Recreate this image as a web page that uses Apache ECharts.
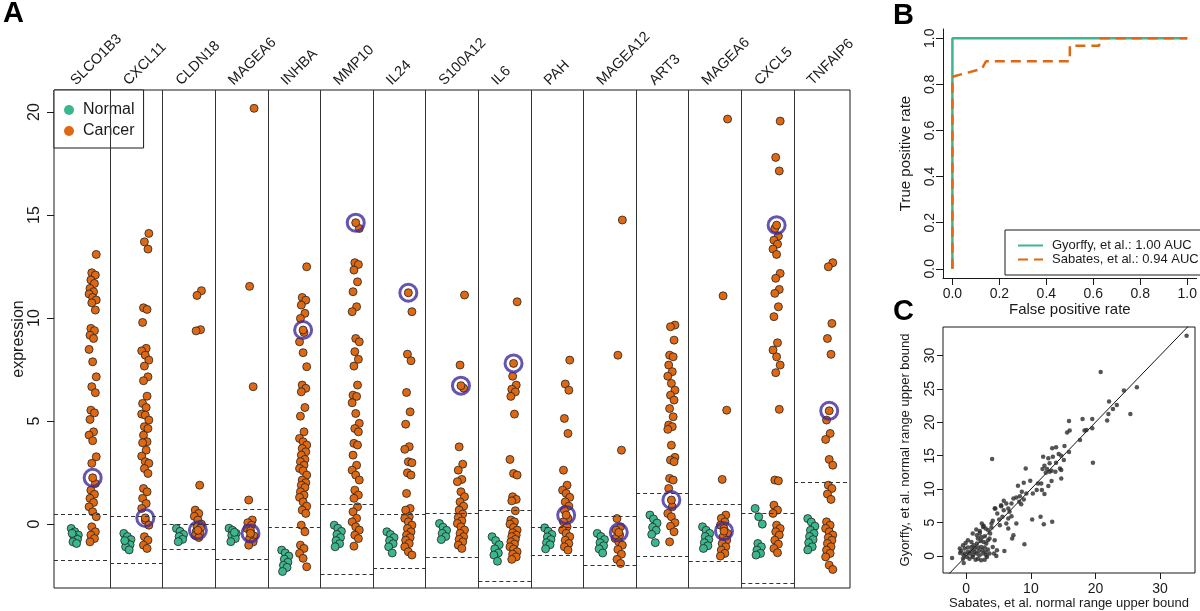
<!DOCTYPE html>
<html><head><meta charset="utf-8">
<script src="https://cdn.jsdelivr.net/npm/echarts@6/dist/echarts.min.js"></script>
<style>html,body{margin:0;padding:0;background:#fff}#c{width:1200px;height:611px}</style>
</head><body><div id="c"></div>
<script>
// ---------- Panel A data ----------
const genes = ['SLCO1B3','CXCL11','CLDN18','MAGEA6','INHBA','MMP10','IL24','S100A12','IL6','PAH','MAGEA12','ART3','MAGEA6','CXCL5','TNFAIP6'];
const yTicksA = [0,5,10,15,20];
const normalVals = [
  [-0.21,-0.37,-0.53,-0.61,-0.74,-0.86,-0.94,-0.45],
  [-0.45,-0.6,-0.75,-0.9,-1.0,-1.1,-1.25,-0.8],
  [-0.21,-0.35,-0.5,-0.6,-0.74,-0.85],
  [-0.2,-0.3,-0.45,-0.55,-0.7,-0.85,-0.4],
  [-1.26,-1.4,-1.55,-1.7,-1.85,-2.0,-2.1,-2.3],
  [-0.05,-0.2,-0.35,-0.5,-0.65,-0.8,-0.95,-1.1],
  [-0.37,-0.5,-0.65,-0.8,-0.95,-1.1,-1.4],
  [0.03,-0.15,-0.3,-0.45,-0.6,-0.75],
  [-0.61,-0.8,-1.0,-1.2,-1.4,-1.5,-1.8],
  [-0.18,-0.35,-0.5,-0.62,-0.75,-0.9,-1.0,-1.2],
  [-0.45,-0.6,-0.75,-0.9,-1.05,-1.2,-1.4],
  [0.44,0.25,0.05,-0.15,-0.3,-0.5,-0.9],
  [-0.13,-0.3,-0.45,-0.6,-0.75,-0.9,-1.05,-1.18],
  [0.76,0.36,0.0,-0.94,-1.1,-1.26,-1.42,-1.5],
  [0.27,0.1,-0.1,-0.3,-0.45,-0.6,-0.75,-0.9,-1.1,-1.25]
];
const cancerVals = [
  [13.09,12.2,12.09,11.85,11.68,11.44,11.28,11.17,11.0,10.88,10.74,10.39,9.5,9.39,9.17,9.01,8.48,7.88,7.15,6.67,6.38,5.53,5.4,5.08,4.48,4.32,4.05,3.27,2.95,1.97,1.65,1.45,1.25,1.05,0.84,0.6,0.36,-0.13,-0.37,-0.53,-0.7,-0.86],
  [14.11,13.7,13.35,10.5,10.42,9.79,8.53,8.41,8.2,7.96,7.67,7.15,6.96,6.21,5.86,5.66,5.34,5.29,5.05,4.73,4.64,4.32,4.0,3.95,3.59,3.3,3.03,2.95,2.7,2.46,1.73,1.57,1.25,1.0,0.76,0.19,-0.05,-0.61,-0.78,-1.02,-1.18],
  [11.33,11.1,9.44,9.38,1.89,0.68,0.52,0.38,0.2,0.0,-0.13,-0.2,-0.37,-0.45,-0.55,-0.65],
  [20.18,11.54,6.67,1.17,0.2,0.07,-0.05,-0.21,-0.32,-0.58,-0.7,-0.86,-1.02],
  [12.49,11.0,10.87,10.63,10.23,9.98,9.3,8.85,8.32,7.64,6.75,6.59,6.42,5.66,5.24,4.48,4.16,4.0,3.84,3.67,3.51,3.35,3.14,3.03,2.86,2.7,2.59,2.38,2.14,2.01,1.89,1.78,1.57,1.41,1.3,1.08,0.87,0.68,0.52,-0.05,-0.37,-1.02,-1.18,-1.42,-1.66,-2.07],
  [14.35,12.69,12.6,12.33,11.76,11.28,10.55,10.31,9.01,8.85,8.37,8.0,7.67,6.75,6.26,6.2,5.89,5.37,4.89,4.64,4.48,3.92,3.84,3.35,2.86,2.62,2.38,2.14,1.65,1.41,1.25,0.84,0.6,0.28,0.11,-0.13,-0.29,-0.53,-0.7,-1.07],
  [10.31,8.25,7.93,6.39,5.45,4.85,3.76,3.63,3.03,2.98,2.49,2.38,1.49,0.76,0.68,0.36,0.28,0.11,-0.05,-0.21,-0.37,-0.53,-0.65,-0.78,-0.94,-1.1,-1.34,-1.5],
  [11.12,7.72,6.6,3.75,2.91,2.62,2.17,2.06,1.57,1.33,1.08,0.87,0.68,0.49,0.32,0.16,0.03,-0.13,-0.29,-0.45,-0.61,-0.74,-0.86,-1.02,-1.18],
  [10.79,7.18,6.75,6.55,6.42,6.2,5.34,3.14,2.46,2.38,1.33,1.2,1.13,0.65,0.2,0.11,0.0,-0.16,-0.29,-0.42,-0.53,-0.61,-0.74,-0.86,-0.97,-1.1,-1.21,-1.34,-1.46,-1.59,-1.71],
  [7.96,6.8,6.5,5.13,4.4,2.62,1.89,1.65,1.49,1.3,1.08,0.87,0.68,0.28,0.11,-0.13,-0.29,-0.45,-0.61,-0.78,-0.94,-1.1,-1.26],
  [14.76,8.2,3.59,0.27,-0.13,-0.29,-0.53,-0.7,-0.86,-1.02,-1.23,-1.46,-1.71,-1.91],
  [9.66,9.58,8.93,8.2,8.12,7.72,7.4,7.18,6.83,6.5,6.26,6.02,5.61,5.21,4.81,4.73,4.6,3.83,3.24,3.11,3.03,2.22,2.14,1.73,0.84,0.52,0.36,0.07,-0.1,-0.37,-0.86],
  [19.66,11.08,5.53,2.17,0.44,0.28,0.11,-0.05,-0.21,-0.45,-0.61,-0.78,-0.94,-1.1,-1.26,-1.42,-1.55],
  [19.56,17.8,17.14,14.35,13.98,13.78,13.59,13.35,13.09,12.17,11.93,11.39,11.2,10.55,10.07,8.8,8.45,8.12,7.72,7.35,5.57,2.14,2.1,0.92,0.68,0.52,-0.05,-0.21,-0.37,-0.53,-0.78,-0.97,-1.18,-1.39],
  [12.69,12.49,9.74,9.01,8.24,5.05,4.4,4.11,3.14,2.86,1.89,1.73,1.46,1.2,0.11,-0.05,-0.21,-0.37,-0.53,-0.65,-0.78,-0.94,-1.1,-1.26,-1.42,-1.59,-1.99,-2.2]
];
const highlightVals = [2.25,0.3,-0.3,-0.45,9.42,14.63,11.23,6.72,7.8,0.44,-0.4,1.17,-0.34,14.51,5.5];
const upperBound = [0.49,0.36,0.0,0.71,-0.16,0.96,0.47,0.52,0.68,-0.13,0.36,1.49,0.97,0.52,2.02];
const lowerBound = [-1.75,-1.91,-1.23,-1.72,null,-2.43,-2.15,-1.63,-2.77,-1.5,-1.99,-1.54,-1.8,-2.88,null];

// ---------- Panel B data ----------
const rocTicks = [0,0.2,0.4,0.6,0.8,1.0];
const gyorffyFpr = [0,0,1];
const gyorffyTpr = [0,1,1];
const sabatesFpr = [0,0,0.125,0.143,0.5,0.5,0.625,0.625,1];
const sabatesTpr = [0,0.833,0.867,0.9,0.9,0.967,0.967,1,1];
const rocNames = ['Gyorffy, et al.: 1.00 AUC','Sabates, et al.: 0.94 AUC'];

// ---------- Panel C data ----------
const cXTicks = [0,10,20,30];
const cYTicks = [0,5,10,15,20,25,30];
const sabatesUB = [34.1,20.8,26.4,24.4,22.1,23.3,22.7,22.0,25.4,21.8,16.0,18.0,19.5,19.5,18.6,18.3,17.6,15.6,15.9,19.6,4.0,15.2,13.9,13.3,15.9,11.9,12.7,13.4,14.3,14.7,15.1,13.9,12.9,12.1,11.8,12.5,13.2,13.8,14.5,14.7,12.3,12.9,9.2,14.7,13.2,11.6,11.1,12.7,8.0,8.9,9.9,10.3,10.9,11.7,12.1,8.6,9.3,8.3,8.9,7.75,7.3,8.2,8.5,7.0,6.2,5.4,6.5,5.8,6.7,7.0,6.5,5.6,5.1,4.5,4.8,4.1,3.9,5.2,6.2,7.75,10.2,11.5,12.0,13.3,7.3,7.1,6.5,9.0,5.9,4.65,4.3,4.75,4.1,3.6,4.4,2.1,2.6,3.0,3.4,3.7,3.9,1.55,1.0,1.65,2.3,2.85,3.35,3.1,2.7,2.2,1.65,1.15,0.8,0.25,-0.1,-0.5,-1.0,-0.8,-0.25,0.25,0.8,1.3,1.8,2.3,2.85,3.35,3.6,3.1,2.6,2.05,1.55,1.0,0.5,0.1,-0.4,-0.95,-0.5,-0.4,0.5,1.0,1.45,1.8,2.3,2.85,3.2,-2.2,0.8,1.3,1.95,2.5,3.0,0.25,-0.25,1.8,2.1,2.4,2.7,5.4,5.8,4.4];
const gyorffyUB = [32.95,27.5,25.25,24.75,23.1,22.6,22.0,21.25,21.25,20.25,18.75,20.5,20.5,19.1,18.85,18.75,17.35,18.45,20.2,13.95,14.5,16.45,16.25,16.1,15.55,14.85,14.6,14.85,15.25,15.0,14.35,13.95,13.85,13.5,13.0,13.0,12.75,12.6,13.1,12.85,12.45,12.6,13.1,11.6,11.2,10.85,10.85,10.45,10.5,10.95,11.25,9.35,9.85,9.85,9.25,9.6,9.35,8.95,8.45,8.75,8.6,8.1,7.75,7.85,7.85,7.45,7.1,6.85,6.6,5.95,5.6,5.85,5.45,7.1,6.35,5.25,4.85,4.6,4.85,4.85,5.45,5.85,4.75,5.1,3.1,2.6,4.1,1.75,0.75,0.0,0.35,0.85,1.35,2.6,2.35,3.75,4.35,4.1,3.85,3.35,4.25,3.95,3.35,3.1,2.85,2.95,2.35,1.85,2.1,2.25,1.85,1.6,2.1,2.35,1.95,1.6,1.1,0.75,1.1,1.25,1.35,1.1,1.25,1.35,1.25,0.95,0.35,0.1,0.35,0.1,0.35,0.1,0.35,-0.15,0.1,0.45,-0.4,-1.05,-0.4,-0.15,-0.55,-0.4,-0.65,-0.55,-0.15,-0.3,0.75,0.6,0.75,0.85,0.6,0.6,0.35,2.6,3.45,4.85,4.5,7.6,8.25,7.1];

// ---------- build ----------
const FONT = '"Liberation Sans", Arial, Helvetica, sans-serif';
const GREEN = '#3bb68d', ORANGE = '#df6812', RING = '#3e2b9c', INK = '#1a1a1a';
const N = genes.length;
const xMinA = 0.435, xMaxA = 15.565;
const labelShift = 0.2; // label anchor sits a little left of the column centre
const jit = k => (((k * 4) % 9) - 4) * 0.017;

const normalPts = [], cancerPts = [], ringPts = [], dashLines = [];
genes.forEach((g, i) => {
  const c = i + 1;
  normalVals[i].forEach((v, k) => normalPts.push([c - 0.17 + jit(k), v]));
  cancerVals[i].forEach((v, k) => cancerPts.push([c + 0.17 + jit(k + 2), v]));
  cancerPts.push([c + 0.17, highlightVals[i]]);
  ringPts.push([c + 0.17, highlightVals[i]]);
  const x0 = i === 0 ? xMinA : c - 0.5, x1 = i === N - 1 ? xMaxA : c + 0.5;
  [upperBound[i], lowerBound[i]].forEach(b => {
    if (b !== null) dashLines.push([{ coord: [x0, b] }, { coord: [x1, b] }]);
  });
});
const dividers = genes.slice(1).map((g, i) => ({ xAxis: i + 1.5 }));
const colIdx = genes.map((g, i) => i + 1);

const gyoRoc = gyorffyFpr.map((x, i) => [x, gyorffyTpr[i]]);
const sabRoc = sabatesFpr.map((x, i) => [x, sabatesTpr[i]]);
const cPts = sabatesUB.map((x, i) => [x, gyorffyUB[i]]);

const tickStyle = { show: true, inside: false, lineStyle: { color: INK, width: 1 } };
const lbl = (extra) => Object.assign({ color: INK, fontFamily: FONT }, extra);

const option = {
  animation: false,
  backgroundColor: '#fff',
  title: [
    { text: 'A', left: 3, top: -1, padding: 0, textStyle: { fontSize: 29, fontWeight: 'bold', color: '#000', fontFamily: FONT } },
    { text: 'B', left: 893, top: 1, padding: 0, textStyle: { fontSize: 29, fontWeight: 'bold', color: '#000', fontFamily: FONT } },
    { text: 'C', left: 893, top: 297, padding: 0, textStyle: { fontSize: 29, fontWeight: 'bold', color: '#000', fontFamily: FONT } }
  ],
  legend: [
    { data: ['Normal', 'Cancer'], left: 54, top: 90, orient: 'vertical', icon: 'circle',
      itemWidth: 10, itemHeight: 10, itemGap: 5, padding: [12, 9, 9, 10],
      backgroundColor: '#fff', borderColor: INK, borderWidth: 1, borderRadius: 0,
      itemStyle: { borderWidth: 0 }, selectedMode: false,
      textStyle: { fontSize: 16, fontFamily: FONT, color: INK, padding: [0, 0, 0, 4] } },
    { data: rocNames, left: 1005, top: 230, orient: 'vertical',
      itemWidth: 25, itemHeight: 14, itemGap: 1, padding: [9, 10, 9, 12],
      backgroundColor: '#fff', borderColor: INK, borderWidth: 1, borderRadius: 0, selectedMode: false,
      itemStyle: { opacity: 0 },
      textStyle: { fontSize: 13, fontFamily: FONT, color: INK, padding: [0, 0, 0, 4] } }
  ],
  grid: [
    { left: 54, top: 90, width: 796, height: 498, show: true, borderColor: INK, borderWidth: 1, backgroundColor: 'transparent' },
    { left: 943, top: 29, width: 256, height: 249, show: false },
    { left: 943, top: 327, width: 252, height: 246, show: true, borderColor: INK, borderWidth: 1, backgroundColor: 'transparent' }
  ],
  xAxis: [
    { gridIndex: 0, type: 'value', min: xMinA, max: xMaxA, position: 'bottom',
      axisLine: { show: false }, axisTick: { show: false }, axisLabel: { show: false }, splitLine: { show: false } },
    { gridIndex: 0, type: 'value', min: xMinA + labelShift, max: xMaxA + labelShift, position: 'top',
      axisLine: { show: false }, axisTick: { show: false }, splitLine: { show: false },
      axisLabel: lbl({ customValues: colIdx, rotate: -45, fontSize: 14.5, margin: 7,
        formatter: v => genes[Math.round(v) - 1] || '' }) },
    { gridIndex: 1, type: 'value', min: -0.04, max: 1.04,
      axisLine: { show: true, onZero: false, lineStyle: { color: INK, width: 1 } },
      axisTick: Object.assign({ customValues: rocTicks, length: 7 }, tickStyle),
      axisLabel: lbl({ customValues: rocTicks, fontSize: 14, margin: 9, formatter: v => v.toFixed(1) }),
      splitLine: { show: false },
      name: 'False positive rate', nameLocation: 'middle', nameGap: 22,
      nameTextStyle: { fontSize: 15, color: INK, fontFamily: FONT } },
    { gridIndex: 2, type: 'value', min: -3.6, max: 35.4,
      axisLine: { show: false, onZero: false },
      axisTick: Object.assign({ customValues: cXTicks, length: 6 }, tickStyle),
      axisLabel: lbl({ customValues: cXTicks, fontSize: 14, margin: 9 }),
      splitLine: { show: false },
      name: 'Sabates, et al. normal range upper bound', nameLocation: 'middle', nameGap: 24,
      nameTextStyle: { fontSize: 13, color: INK, fontFamily: FONT } }
  ],
  yAxis: [
    { gridIndex: 0, type: 'value', min: -3.1, max: 21.07,
      axisLine: { show: false, onZero: false },
      axisTick: Object.assign({ customValues: yTicksA, length: 7 }, tickStyle),
      axisLabel: lbl({ customValues: yTicksA, rotate: 90, fontSize: 16, margin: 11 }),
      splitLine: { show: false },
      name: 'expression', nameLocation: 'middle', nameGap: 27, nameRotate: 90, nameMoveOverlap: false,
      nameTextStyle: { fontSize: 16, color: INK, fontFamily: FONT } },
    { gridIndex: 1, type: 'value', min: -0.04, max: 1.04,
      axisLine: { show: true, onZero: false, lineStyle: { color: INK, width: 1 } },
      axisTick: Object.assign({ customValues: rocTicks, length: 7 }, tickStyle),
      axisLabel: lbl({ customValues: rocTicks, rotate: 90, fontSize: 14, margin: 6, formatter: v => v.toFixed(1) }),
      splitLine: { show: false },
      name: 'True positive rate', nameLocation: 'middle', nameGap: 30, nameRotate: 90,
      nameTextStyle: { fontSize: 15, color: INK, fontFamily: FONT } },
    { gridIndex: 2, type: 'value', min: -2.55, max: 34.25,
      axisLine: { show: false, onZero: false },
      axisTick: Object.assign({ customValues: cYTicks, length: 6 }, tickStyle),
      axisLabel: lbl({ customValues: cYTicks, rotate: 90, fontSize: 14, margin: 6 }),
      splitLine: { show: false },
      name: 'Gyorffy, et al. normal range upper bound', nameLocation: 'middle', nameGap: 31, nameRotate: 90,
      nameTextStyle: { fontSize: 13, color: INK, fontFamily: FONT } }
  ],
  series: [
    { name: 'Normal', type: 'scatter', xAxisIndex: 0, yAxisIndex: 0, data: normalPts,
      symbolSize: 8, itemStyle: { color: GREEN, borderColor: '#222', borderWidth: 0.8, opacity: 1 },
      markLine: { silent: true, symbol: ['none', 'none'], label: { show: false }, animation: false,
        lineStyle: { color: '#333', width: 1, type: 'solid' }, data: dividers }, z: 3 },
    { name: 'Cancer', type: 'scatter', xAxisIndex: 0, yAxisIndex: 0, data: cancerPts,
      symbolSize: 8, itemStyle: { color: ORANGE, borderColor: '#222', borderWidth: 0.8, opacity: 1 },
      markLine: { silent: true, symbol: ['none', 'none'], label: { show: false }, animation: false,
        lineStyle: { color: '#333', width: 1, type: [4, 3] }, data: dashLines }, z: 3 },
    { name: 'ring', type: 'scatter', xAxisIndex: 0, yAxisIndex: 0, data: ringPts,
      symbolSize: 17, itemStyle: { color: 'rgba(0,0,0,0)', borderColor: RING, borderWidth: 3 }, z: 4, silent: true },
    { name: rocNames[0], type: 'line', xAxisIndex: 2, yAxisIndex: 1, data: gyoRoc, symbol: 'none',
      lineStyle: { color: GREEN, width: 2.5 }, itemStyle: { color: GREEN }, z: 3 },
    { name: rocNames[1], type: 'line', xAxisIndex: 2, yAxisIndex: 1, data: sabRoc, symbol: 'none',
      lineStyle: { color: ORANGE, width: 2.5, type: [10, 6] }, itemStyle: { color: ORANGE }, z: 4 },
    { name: 'identity', type: 'line', xAxisIndex: 3, yAxisIndex: 2, data: [[-5, -5], [40, 40]], symbol: 'none',
      lineStyle: { color: '#111', width: 1 }, clip: true, z: 2, silent: true },
    { name: 'genes', type: 'scatter', xAxisIndex: 3, yAxisIndex: 2, data: cPts, symbolSize: 4.5,
      itemStyle: { color: '#2a2a2a' }, z: 3, silent: true }
  ]
};
const chart = echarts.init(document.getElementById('c'));
chart.setOption(option);
</script></body></html>
